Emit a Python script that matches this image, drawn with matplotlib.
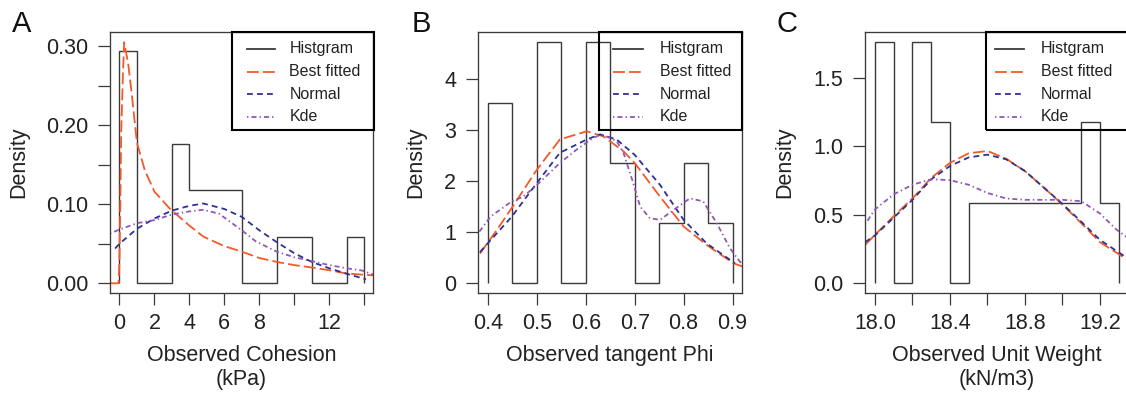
import matplotlib
matplotlib.use("Agg")
import matplotlib.pyplot as plt
from matplotlib.patches import Rectangle
from matplotlib.lines import Line2D

plt.rcParams['font.family'] = ['Liberation Sans', 'DejaVu Sans']
plt.rcParams['lines.scale_dashes'] = False

W, H = 1126, 393

# --- A: cohesion (kPa) ---
a_edges = [0, 1, 2, 3, 4, 5, 6, 7, 8, 9, 10, 11, 12, 13, 14]
a_dens = [0.294, 0, 0, 0.176, 0.118, 0.118, 0.118, 0, 0, 0.059, 0.059, 0, 0, 0.059]
a_best_x = [-0.54, -0.05, 0.0, 0.05, 0.1, 0.2, 0.27, 0.5, 0.72, 1.0, 1.45, 2.0, 2.9, 4.0, 4.8,
            6.0, 7.0, 8.0, 9.0, 10.0, 11.0, 12.0, 13.0, 14.5]
a_best_y = [0, 0, 0.03, 0.10, 0.19, 0.265, 0.305, 0.278, 0.236, 0.178, 0.143, 0.116, 0.094, 0.073, 0.059,
            0.047, 0.040, 0.032, 0.027, 0.023, 0.020, 0.0165, 0.0123, 0.010]
a_norm_x = [-0.25, 0, 1, 2, 3, 4, 4.8, 6, 7, 8, 9, 10, 11, 12, 13, 14.1]
a_norm_y = [0.044, 0.050, 0.069, 0.082, 0.092, 0.098, 0.101, 0.094, 0.084, 0.067, 0.052, 0.038,
            0.027, 0.019, 0.012, 0.005]
a_kde_x = [-0.54, 0, 1, 2, 3, 4, 4.8, 5.7, 7, 7.8, 9, 10, 11, 12, 13, 13.9, 14.5]
a_kde_y = [0.063, 0.068, 0.076, 0.080, 0.087, 0.091, 0.093, 0.088, 0.067, 0.053, 0.040, 0.033,
           0.028, 0.023, 0.019, 0.016, 0.011]
a_xticks = [0, 2, 4, 6, 8, 10, 12, 14]
a_xlabels = ['0', '2', '4', '6', '8', '', '12', '']
a_yticks = [0, 0.05, 0.10, 0.15, 0.20, 0.25, 0.30]
a_ylabels = ['0.00', '', '0.10', '', '0.20', '', '0.30']

# --- B: tangent phi ---
b_edges = [0.40, 0.45, 0.50, 0.55, 0.60, 0.65, 0.70, 0.75, 0.80, 0.85, 0.90]
b_dens = [3.53, 0, 4.71, 0, 4.71, 2.35, 0, 1.18, 2.35, 1.18]
b_best_x = [0.3836, 0.418, 0.4485, 0.50, 0.547, 0.602, 0.636, 0.677, 0.70, 0.752, 0.80, 0.847, 0.902, 0.92]
b_best_y = [0.58, 1.04, 1.47, 2.22, 2.81, 2.97, 2.87, 2.58, 2.35, 1.69, 1.11, 0.75, 0.39, 0.33]
b_norm_x = [0.3836, 0.4485, 0.50, 0.547, 0.602, 0.629, 0.663, 0.70, 0.752, 0.80, 0.847, 0.905]
b_norm_y = [0.61, 1.30, 1.96, 2.55, 2.81, 2.91, 2.81, 2.51, 1.92, 1.24, 0.78, 0.39]
b_kde_x = [0.377, 0.405, 0.4485, 0.472, 0.50, 0.547, 0.581, 0.615, 0.632, 0.663, 0.677, 0.697, 0.711,
           0.731, 0.752, 0.779, 0.813, 0.84, 0.868, 0.895, 0.92]
b_kde_y = [0.94, 1.30, 1.60, 1.69, 1.92, 2.35, 2.61, 2.84, 2.91, 2.78, 2.55, 1.96, 1.50,
           1.27, 1.24, 1.43, 1.66, 1.60, 1.17, 0.68, 0.36]
b_xticks = [0.4, 0.5, 0.6, 0.7, 0.8, 0.9]
b_xlabels = ['0.4', '0.5', '0.6', '0.7', '0.8', '0.9']
b_yticks = [0, 1, 2, 3, 4]
b_ylabels = ['0', '1', '2', '3', '4']

# --- C: unit weight (kN/m3) ---
c_edges = [18.0, 18.1, 18.2, 18.3, 18.4, 18.5, 18.6, 18.7, 18.8, 18.9, 19.0, 19.1, 19.2, 19.3]
c_dens = [1.765, 0, 1.765, 1.176, 0, 0.588, 0.588, 0.588, 0.588, 0.588, 0.588, 1.176, 0.588]
c_best_x = [17.947, 18.0, 18.1, 18.2, 18.3, 18.4, 18.5, 18.6, 18.7, 18.8, 18.9, 19.0, 19.1, 19.2, 19.35]
c_best_y = [0.28, 0.354, 0.49, 0.62, 0.77, 0.88, 0.95, 0.967, 0.91, 0.82, 0.70, 0.575, 0.44, 0.30, 0.17]
c_norm_x = [17.947, 18.0, 18.1, 18.2, 18.3, 18.4, 18.5, 18.6, 18.7, 18.8, 18.9, 19.0, 19.1, 19.2, 19.35]
c_norm_y = [0.30, 0.35, 0.48, 0.61, 0.76, 0.857, 0.92, 0.94, 0.906, 0.82, 0.70, 0.58, 0.45, 0.317, 0.18]
c_kde_x = [17.947, 18.0, 18.1, 18.2, 18.3, 18.4, 18.5, 18.6, 18.7, 18.8, 18.9, 19.0, 19.1, 19.2, 19.29, 19.35]
c_kde_y = [0.43, 0.54, 0.65, 0.72, 0.76, 0.754, 0.72, 0.66, 0.62, 0.61, 0.61, 0.61, 0.60, 0.51, 0.39, 0.33]
c_xticks = [18.0, 18.2, 18.4, 18.6, 18.8, 19.0, 19.2]
c_xlabels = ['18.0', '', '18.4', '', '18.8', '', '19.2']
c_yticks = [0, 0.5, 1.0, 1.5]
c_ylabels = ['0.0', '0.5', '1.0', '1.5']

names = ['Histgram', 'Best fitted', 'Normal', 'Kde']

ink = '#3a3a3a'
c_best = '#f15a29'
c_norm = '#2e3192'
c_kde = '#9157b8'
styles = [dict(color=c_best, dashes=(8.5, 3.0)),
          dict(color=c_norm, dashes=(4.2, 3.0)),
          dict(color=c_kde, dashes=(1.0, 2.2, 3.6, 2.2))]

fig = plt.figure(figsize=(W / 100, H / 100), dpi=100)


def px(x, y):
    return x / W, 1 - y / H


def panel(rect, letter, letter_xy, edges, dens, curves, xlim, ylim,
          xticks, xlabels, yticks, ylabels, xlab, ylab_x, key_px):
    l, t, r, b = rect
    ax = fig.add_axes([l / W, 1 - b / H, (r - l) / W, (b - t) / H])
    # histogram outline, base-R style (no inner edges, no base line under bars)
    ax.stairs(dens, edges, color=ink, linewidth=1.0)
    for (cx, cy), st in zip(curves, styles):
        ax.plot(cx, cy, lw=1.3, **st)
    ax.set_xlim(*xlim)
    ax.set_ylim(*ylim)
    ax.set_xticks(xticks, xlabels)
    ax.set_yticks(yticks, ylabels)
    ax.tick_params(length=8.6, width=0.9, color=ink, labelsize=15.5, labelcolor='#222222')
    ax.tick_params(axis='x', pad=5.5)
    ax.tick_params(axis='y', pad=7)
    for s in ax.spines.values():
        s.set_color(ink)
        s.set_linewidth(0.95)
    ax.set_xlabel(xlab, fontsize=15.5, color='#222222', linespacing=1.15)
    ax.xaxis.set_label_coords(0.5, -0.2)
    ax.set_ylabel('Density', fontsize=15.5, color='#222222')
    ax.yaxis.set_label_coords(ylab_x, 0.5)
    fig.text(*px(*letter_xy), letter, fontsize=21, ha='center', va='baseline', color='#111111')

    # legend box (transparent, like base R)
    kl, kline0, kline1, ktext, kr = key_px
    x0, y1 = px(kl, 32)
    x1, y0 = px(kr, 130)
    fig.add_artist(Rectangle((x0, y0), x1 - x0, y1 - y0, transform=fig.transFigure,
                             fill=False, edgecolor='black', linewidth=1.5))
    rows = [47.5, 70.5, 93, 115.5]
    hist_style = dict(color=ink)
    for name, yc, st in zip(names, rows, [hist_style] + styles):
        fig.add_artist(Line2D([kline0 / W, kline1 / W], [1 - (yc + 1) / H] * 2,
                              transform=fig.transFigure, lw=1.3, **st))
        fig.text(ktext / W, 1 - (yc + 5.6) / H, name, fontsize=11.5, va='baseline',
                 color='#222222')
    return ax


panel((110, 32, 373, 293), 'A', (21.5, 31.7), a_edges, a_dens,
      [(a_best_x, a_best_y), (a_norm_x, a_norm_y), (a_kde_x, a_kde_y)],
      (-0.54, 14.5), (-0.0123, 0.318), a_xticks, a_xlabels, a_yticks, a_ylabels,
      'Observed Cohesion\n(kPa)', -0.308, (231.7, 246.5, 275, 289.3, 373.5))
panel((477.7, 32, 742.3, 293), 'B', (421, 31.7), b_edges, b_dens,
      [(b_best_x, b_best_y), (b_norm_x, b_norm_y), (b_kde_x, b_kde_y)],
      (0.379, 0.920), (-0.19, 4.91), b_xticks, b_xlabels, b_yticks, b_ylabels,
      'Observed tangent Phi', -0.193, (598.7, 613.3, 643.3, 660, 742.3))
panel((865, 32, 1128.5, 293), 'C', (787.5, 31.7), c_edges, c_dens,
      [(c_best_x, c_best_y), (c_norm_x, c_norm_y), (c_kde_x, c_kde_y)],
      (17.947, 19.352), (-0.0706, 1.836), c_xticks, c_xlabels, c_yticks, c_ylabels,
      'Observed Unit Weight\n(kN/m3)', -0.266, (985.7, 995, 1024, 1040.7, 1135))

fig.savefig('out.png', dpi=100)
